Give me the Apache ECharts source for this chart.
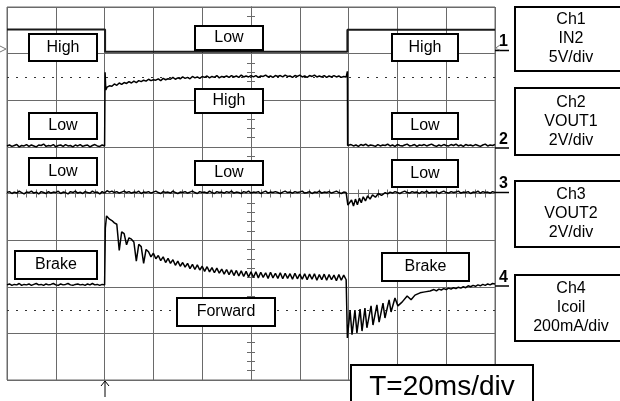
<!DOCTYPE html>
<html>
<head>
<meta charset="utf-8">
<script src="https://cdn.jsdelivr.net/npm/echarts@6/dist/echarts.min.js"></script>
<style>
html,body{margin:0;padding:0;background:#fff;}
#c{width:620px;height:401px;}
</style>
</head>
<body>
<div id="c"></div>
<script>
// ---- Data (x: time in ms, 20 ms/div; y: screen divisions, 0 = centre) ----
const xTicks = [0, 20, 40, 60, 80, 100, 120, 140, 160, 180, 200];
const yTicks = [-4, -3, -2, -1, 0, 1, 2, 3, 4];
const refLevels = [2.5, -2.5];

// Ch1 IN2 (5V/div)
const ch1 = [[0, 3.52], [40.2, 3.52], [40.2, 3.04], [139.5, 3.04], [139.5, 3.51], [200, 3.51]];

// Ch2 VOUT1 (2V/div), sampled every 1 ms
const ch2LowA = [1.02,1.04,1.01,1.03,1.05,1.00,1.03,1.02,1.05,1.01,1.04,1.02,1.00,1.04,1.03,1.06,1.01,1.03,1.02,1.05,1.00,1.03,1.04,1.01,1.05,1.02,1.03,1.00,1.04,1.02,1.05,1.01,1.03,1.04,1.00,1.03,1.05,1.02,1.01,1.04,1.02];
const ch2Edge1 = [[40.2, 1.02], [40.2, 2.60], [40.5, 2.22]];
const ch2High = [2.28,2.31,2.30,2.35,2.32,2.37,2.34,2.38,2.36,2.40,
  2.37,2.41,2.38,2.42,2.40,2.43,2.41,2.45,2.42,2.44,
  2.43,2.46,2.42,2.47,2.44,2.46,2.45,2.49,2.45,2.48,
  2.46,2.50,2.47,2.49,2.46,2.51,2.48,2.50,2.47,2.51,
  2.49,2.52,2.48,2.51,2.49,2.53,2.48,2.51,2.50,2.52,
  2.49,2.53,2.50,2.52,2.49,2.54,2.50,2.52,2.50,2.53,
  2.50,2.53,2.49,2.52,2.51,2.54,2.50,2.52,2.49,2.53,
  2.51,2.53,2.50,2.54,2.51,2.52,2.49,2.53,2.51,2.54,
  2.50,2.52,2.49,2.53,2.51,2.54,2.50,2.52,2.50,2.53,
  2.49,2.52,2.50,2.53,2.50,2.52,2.49,2.51,2.50];
const ch2Edge2 = [[139.5, 2.50], [139.5, 2.62], [139.6, 1.03]];
const ch2LowB = [1.03,1.05,1.02,1.04,1.01,1.05,1.03,1.06,1.02,1.04,
  1.03,1.01,1.05,1.02,1.04,1.03,1.06,1.02,1.04,1.01,
  1.05,1.03,1.02,1.04,1.06,1.02,1.03,1.05,1.01,1.04,
  1.03,1.05,1.02,1.04,1.06,1.03,1.01,1.04,1.02,1.05,
  1.03,1.02,1.05,1.03,1.06,1.02,1.04,1.01,1.05,1.03,
  1.04,1.02,1.05,1.03,1.01,1.04,1.06,1.02,1.04,1.03,1.05];

// Ch3 VOUT2 (2V/div)
const ch3A = [0.02,0.04,0.00,0.03,0.01,0.05,0.02,-0.01,0.03,0.02,
  0.05,0.01,0.03,-0.01,0.04,0.02,0.00,0.04,0.01,0.03,
  0.02,0.05,0.00,0.03,0.02,-0.01,0.04,0.02,0.05,0.01,
  0.03,0.00,0.04,0.02,0.01,0.05,0.02,0.03,-0.01,0.04,
  0.01,0.06,0.03,0.05,0.02,0.04,0.01,0.03,0.05,0.02,
  0.04,0.01,0.03,0.02,0.05,0.00,0.03,0.02,0.04,0.01,
  0.03,0.05,0.02,0.00,0.04,0.02,0.03,0.01,0.05,0.02,
  0.00,0.03,0.02,0.04,0.01,0.03,0.05,0.02,0.00,0.04,
  0.02,0.03,0.01,0.05,0.02,0.00,0.04,0.02,0.03,0.01,
  0.04,0.02,0.05,0.01,0.03,0.02,0.00,0.04,0.02,0.05,
  0.01,0.03,0.02,0.04,0.00,0.03,0.05,0.01,0.03,0.02,
  0.04,0.02,0.00,0.03,0.05,0.02,0.03,0.01,0.04,0.02,
  0.03,0.05,0.01,0.02,0.04,0.00,0.03,0.02,0.05,0.01,
  0.03,0.02,0.04,0.01,0.03,0.05,0.02,0.00,0.03,0.02];
const ch3Dip = [[139.7,-0.25],[140.5,-0.29],[141.2,-0.14],[142.0,-0.27],[142.8,-0.12],[143.6,-0.24],[144.4,-0.10],[145.2,-0.20],[146.0,-0.07],[146.9,-0.16],[147.8,-0.05],[148.8,-0.12],[149.8,-0.03],[151.0,-0.08],[152.2,0.00],[153.5,-0.04],[155.0,0.02],[156.0,-0.01]];
const ch3B = [0.03,0.01,0.04,0.02,0.00,0.03,0.05,0.02,0.01,0.04,
  0.02,0.03,0.00,0.04,0.02,0.05,0.01,0.03,0.02,0.04,
  0.00,0.03,0.05,0.02,0.01,0.04,0.02,0.03,0.05,0.01,
  0.03,0.02,0.04,0.00,0.03,0.02,0.05,0.01,0.04,0.02,
  0.03,0.01,0.04,0.02];

// Ch4 Icoil (200mA/div)
const ch4BrakeA = [-1.96,-1.94,-1.97,-1.95,-1.96,-1.93,-1.97,-1.95,-1.96,-1.94,
  -1.97,-1.95,-1.93,-1.96,-1.95,-1.97,-1.94,-1.96,-1.95,-1.93,
  -1.96,-1.97,-1.94,-1.96,-1.95,-1.93,-1.96,-1.97,-1.95,-1.94,
  -1.96,-1.95,-1.97,-1.94,-1.96,-1.93,-1.96,-1.95,-1.97,-1.95,-1.96];
const ch4Edge1 = [[40.2,-1.96],[40.2,-1.19],[40.3,-0.74],[40.8,-0.48]];
const ch4Forward = [-0.50,-0.55,-0.58,-0.63,-0.66,-1.22,-0.82,-0.86,-1.10,-0.95,
  -0.98,-1.04,-1.45,-1.09,-1.14,-1.50,-1.20,-1.25,-1.36,-1.28,
  -1.40,-1.33,-1.44,-1.36,-1.48,-1.39,-1.50,-1.42,-1.54,-1.45,
  -1.56,-1.48,-1.58,-1.50,-1.61,-1.52,-1.63,-1.53,-1.64,-1.56,
  -1.67,-1.57,-1.68,-1.59,-1.70,-1.60,-1.71,-1.62,-1.73,-1.63,
  -1.74,-1.64,-1.76,-1.65,-1.77,-1.66,-1.78,-1.67,-1.79,-1.68,
  -1.80,-1.68,-1.81,-1.69,-1.80,-1.70,-1.82,-1.69,-1.81,-1.71,
  -1.82,-1.70,-1.83,-1.71,-1.82,-1.72,-1.84,-1.71,-1.83,-1.73,
  -1.84,-1.72,-1.85,-1.73,-1.84,-1.72,-1.86,-1.74,-1.85,-1.73,
  -1.86,-1.74,-1.85,-1.75,-1.87,-1.74,-1.86,-1.75,-1.85];
const ch4Edge2 = [[139.5,-1.85],[139.5,-3.10]];
const ch4Recover = [[139.8,-3.10],[140.6,-2.50],[141.4,-3.03],[142.6,-2.50],[143.4,-2.99],[144.7,-2.48],[145.5,-2.95],[146.7,-2.46],[147.5,-2.88],[149.2,-2.41],[150.0,-2.82],[151.6,-2.39],[152.5,-2.76],[154.1,-2.35],[154.9,-2.67],[156.6,-2.28],[157.4,-2.54],[159.0,-2.24],[160.2,-2.41],[161.9,-2.33],[164.0,-2.20],[165.6,-2.28],[167.2,-2.18],[169.3,-2.13],[171.3,-2.11],[173.4,-2.09]];
const ch4BrakeB = [-2.08,-2.06,-2.09,-2.05,-2.07,-2.04,-2.06,-2.03,-2.05,-2.02,
  -2.04,-2.01,-2.03,-2.00,-2.02,-1.98,-2.00,-1.97,-1.99,-1.96,
  -1.98,-1.95,-1.97,-1.94,-1.96,-1.93,-1.94];

// ---- Build ----
function seg(t0, step, vals) { return vals.map((v, i) => [t0 + i * step, v]); }
const ch2 = [].concat(seg(0,1,ch2LowA), ch2Edge1, seg(41,1,ch2High), ch2Edge2, seg(140,1,ch2LowB));
const ch3 = [].concat(seg(0,1,ch3A), ch3Dip, seg(157,1,ch3B));
const ch4 = [].concat(seg(0,1,ch4BrakeA), ch4Edge1, seg(41,1,ch4Forward), ch4Edge2, ch4Recover, seg(174,1,ch4BrakeB));

const GRID = '#6a6a6a';
const FONT = 'Liberation Sans, Arial, sans-serif';

function box(x, y, w, h, text, fs, lw, lh) {
  return {
    type: 'group', z: 100,
    children: [
      { type: 'rect', z: 100, shape: { x: x, y: y, width: w, height: h },
        style: { fill: '#fff', stroke: '#000', lineWidth: lw } },
      { type: 'text', z: 101, style: { x: x + w / 2, y: y + h / 2, text: text,
        font: fs + 'px ' + FONT, fill: '#000', align: 'center', verticalAlign: 'middle',
        lineHeight: lh || fs } }
    ]
  };
}
function marker(label, yLine) {
  return [
    { type: 'text', z: 100, style: { x: 503.5, y: yLine - 0.5, text: label,
      font: 'bold 16px ' + FONT, fill: '#000', align: 'center', verticalAlign: 'bottom' } },
    { type: 'line', z: 100, shape: { x1: 495, y1: yLine, x2: 509, y2: yLine },
      style: { stroke: '#000', lineWidth: 1.5 } }
  ];
}

const traceStyle = { color: '#000', width: 1.5 };
function line(name, data, style) {
  return { name: name, type: 'line', data: data, showSymbol: false, symbol: 'none',
    animation: false, lineStyle: style || traceStyle, xAxisIndex: 0, yAxisIndex: 0, z: 5 };
}

const chart = echarts.init(document.getElementById('c'), null, { renderer: 'canvas' });
const ch1Series = line('Ch1', ch1, { color: '#1a1a1a', width: 2 });
ch1Series.markLine = {
  silent: true, symbol: 'none', animation: false, label: { show: false },
  lineStyle: { color: '#333', width: 1, type: [2, 7] },
  data: refLevels.map(v => ({ yAxis: v }))
};

const tickAxisX = (inside) => ({
  type: 'value', min: -100, max: 100, interval: 4, position: 'bottom', gridIndex: 0,
  axisLine: { show: true, onZero: true, onZeroAxisIndex: 0, lineStyle: { color: GRID, width: 1 } },
  axisTick: { show: true, inside: inside, length: 4, lineStyle: { color: GRID, width: 1 } },
  axisLabel: { show: false }, splitLine: { show: false }
});
const tickAxisY = (inside) => ({
  type: 'value', min: -4, max: 4, interval: 0.2, position: 'left', gridIndex: 0,
  axisLine: { show: true, onZero: true, onZeroAxisIndex: 1, lineStyle: { color: GRID, width: 1 } },
  axisTick: { show: true, inside: inside, length: 4, lineStyle: { color: GRID, width: 1 } },
  axisLabel: { show: false }, splitLine: { show: false }
});

chart.setOption({
  animation: false,
  backgroundColor: '#fff',
  grid: { left: 7, top: 7, width: 488, height: 373, show: true, borderColor: GRID, borderWidth: 1 },
  xAxis: [
    { type: 'value', min: xTicks[0], max: xTicks[xTicks.length - 1], interval: xTicks[1] - xTicks[0],
      axisLine: { show: false }, axisTick: { show: false }, axisLabel: { show: false },
      splitLine: { show: true, lineStyle: { color: GRID, width: 1 } } },
    tickAxisX(false),
    tickAxisX(true)
  ],
  yAxis: [
    { type: 'value', min: yTicks[0], max: yTicks[yTicks.length - 1], interval: yTicks[1] - yTicks[0],
      axisLine: { show: false }, axisTick: { show: false }, axisLabel: { show: false },
      splitLine: { show: true, lineStyle: { color: GRID, width: 1 } } },
    tickAxisY(false),
    tickAxisY(true)
  ],
  series: [ch1Series, line('Ch2', ch2), line('Ch3', ch3), line('Ch4', ch4)],
  graphic: [].concat(
    [
      box(29, 34, 68, 27, 'High', 16, 2),
      box(195, 26, 68, 24, 'Low', 16, 2),
      box(195, 89, 68, 24, 'High', 16, 2),
      box(29, 113, 68, 26, 'Low', 16, 2),
      box(29, 158, 68, 27, 'Low', 16, 2),
      box(195, 161, 68, 24, 'Low', 16, 2),
      box(392, 34, 66, 27, 'High', 16, 2),
      box(392, 113, 66, 26, 'Low', 16, 2),
      box(392, 160, 66, 27, 'Low', 16, 2),
      box(15, 251, 82, 28, 'Brake', 16, 2),
      box(177, 298, 98, 28, 'Forward', 16, 2),
      box(382, 253, 87, 28, 'Brake', 16, 2),
      box(515, 7, 112, 64, 'Ch1\nIN2\n5V/div', 16, 2, 19),
      box(515, 88, 112, 67, 'Ch2\nVOUT1\n2V/div', 16, 2, 19),
      box(515, 181, 112, 66, 'Ch3\nVOUT2\n2V/div', 16, 2, 19),
      box(515, 275, 112, 66, 'Ch4\nIcoil\n200mA/div', 16, 2, 19),
      box(351, 365, 182, 45, 'T=20ms/div', 28, 2)
    ],
    marker('1', 50.5), marker('2', 148), marker('3', 192.5), marker('4', 286),
    [
      { type: 'polyline', z: 100, shape: { points: [[0, 46], [6, 49], [0, 52]] },
        style: { stroke: '#777', fill: null, lineWidth: 1 } },
      { type: 'polyline', z: 100, shape: { points: [[500, 45], [495, 48.5], [500, 50]] },
        style: { stroke: '#777', fill: null, lineWidth: 1 } },
      { type: 'line', z: 100, shape: { x1: 105, y1: 381, x2: 105, y2: 397 },
        style: { stroke: '#000', lineWidth: 1 } },
      { type: 'polyline', z: 100, shape: { points: [[101, 386], [105, 381], [109, 386]] },
        style: { stroke: '#000', fill: null, lineWidth: 1 } }
    ]
  )
});
</script>
</body>
</html>
